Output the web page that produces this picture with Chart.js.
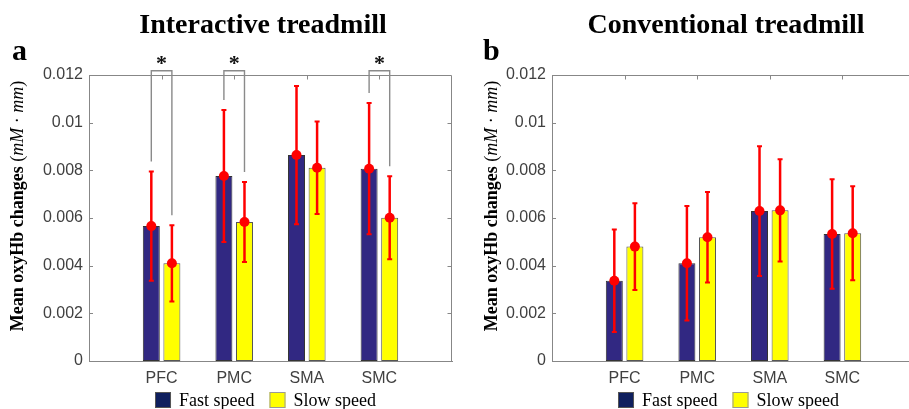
<!DOCTYPE html>
<html><head><meta charset="utf-8">
<script src="https://cdn.jsdelivr.net/npm/chart.js@4/dist/chart.umd.min.js"></script>
<style>
html,body{margin:0;padding:0;overflow:hidden;background:#fff;width:909px;height:409px;position:relative}
canvas{position:absolute;top:0}
#ca{left:0}
#cb{left:460px}
</style></head>
<body>
<canvas id="ca" width="530" height="409"></canvas>
<canvas id="cb" width="470" height="409"></canvas>
<script>
// ---- data ----
const categories = ['PFC', 'PMC', 'SMA', 'SMC'];
const seriesNames = ['Fast speed', 'Slow speed'];
const yTicks = [0, 0.002, 0.004, 0.006, 0.008, 0.01, 0.012];

const interactiveFast   = [0.00566, 0.00776, 0.00864, 0.00807];
const interactiveSlow   = [0.00410, 0.00583, 0.00811, 0.00601];
const interactiveFastSD = [0.00229, 0.00277, 0.00290, 0.00275];
const interactiveSlowSD = [0.00160, 0.00168, 0.00194, 0.00174];
const interactiveSig    = [true, true, false, true];

const conventionalFast   = [0.00337, 0.00410, 0.00629, 0.00533];
const conventionalSlow   = [0.00480, 0.00519, 0.00632, 0.00536];
const conventionalFastSD = [0.00215, 0.00240, 0.00272, 0.00230];
const conventionalSlowSD = [0.00182, 0.00190, 0.00215, 0.00197];
const conventionalSig    = [false, false, false, false];

const bracketLevel = 0.01218;

// ---- styles ----
const SANS = "'Liberation Sans', Arial, sans-serif";
const SERIF = "'Liberation Serif', 'Times New Roman', serif";
const fastColor = 'rgb(49,40,130)';
const slowColor = '#ffff00';
const legendFast = '#0f1f5e';
const axisColor = '#878787';
const tickColor = '#404040';
const YW = 50, XH = 30;

function panelPlugin(cfg) {
  return {
    id: 'panel' + cfg.letter,
    afterDatasetsDraw(chart) {
      const ctx = chart.ctx, ya = chart.scales.y;
      const vals = [cfg.fast, cfg.slow], sds = [cfg.fastSD, cfg.slowSD];
      ctx.save();
      for (let d = 0; d < 2; d++) {
        const meta = chart.getDatasetMeta(d);
        for (let i = 0; i < categories.length; i++) {
          const el = meta.data[i + 1];
          const x = el.x, v = vals[d][i], s = sds[d][i];
          const yT = ya.getPixelForValue(v + s), yB = ya.getPixelForValue(v - s), yM = ya.getPixelForValue(v);
          ctx.strokeStyle = '#ff0000'; ctx.fillStyle = '#ff0000';
          ctx.lineWidth = 2.5;
          ctx.beginPath(); ctx.moveTo(x, yT); ctx.lineTo(x, yB); ctx.stroke();
          ctx.lineWidth = 2;
          ctx.beginPath(); ctx.moveTo(x - 2.5, yT); ctx.lineTo(x + 2.5, yT);
          ctx.moveTo(x - 2.5, yB); ctx.lineTo(x + 2.5, yB); ctx.stroke();
          ctx.beginPath(); ctx.arc(x, yM, 5, 0, Math.PI * 2); ctx.fill();
        }
      }
      ctx.restore();
    },
    afterDraw(chart) {
      const ctx = chart.ctx, ca = chart.chartArea, ya = chart.scales.y, xa = chart.scales.x;
      ctx.save();
      // box + inward ticks
      ctx.strokeStyle = axisColor; ctx.lineWidth = 1;
      const top = Math.round(ca.top) + 0.5, right = Math.round(ca.right) - 0.5;
      ctx.beginPath();
      ctx.moveTo(ca.left, top); ctx.lineTo(right, top); ctx.lineTo(right, ca.bottom);
      for (let i = 0; i < categories.length; i++) {
        const x = Math.round(xa.getPixelForValue(i + 1)) + 0.5;
        ctx.moveTo(x, top); ctx.lineTo(x, top + 4);
      }
      yTicks.forEach(v => {
        const y = Math.round(ya.getPixelForValue(v)) + 0.5;
        if (v > 0 && v < 0.012) {
          ctx.moveTo(ca.left, y); ctx.lineTo(ca.left + 4, y);
          ctx.moveTo(right, y); ctx.lineTo(right - 4, y);
        }
      });
      ctx.stroke();

      // significance brackets
      const metaF = chart.getDatasetMeta(0), metaS = chart.getDatasetMeta(1);
      cfg.sig.forEach((s, i) => {
        if (!s) return;
        const x1 = metaF.data[i + 1].x, x2 = metaS.data[i + 1].x;
        const yb = ya.getPixelForValue(bracketLevel);
        const y1 = ya.getPixelForValue(cfg.fast[i] + cfg.fastSD[i]) - 10;
        const y2 = ya.getPixelForValue(cfg.slow[i] + cfg.slowSD[i]) - 10;
        ctx.strokeStyle = '#8a8a8a'; ctx.lineWidth = 1.4;
        ctx.beginPath(); ctx.moveTo(x1, y1); ctx.lineTo(x1, yb); ctx.lineTo(x2, yb); ctx.lineTo(x2, y2); ctx.stroke();
        ctx.fillStyle = '#111'; ctx.font = 'bold 22px ' + SERIF;
        ctx.textAlign = 'center'; ctx.textBaseline = 'alphabetic';
        ctx.fillText('*', (x1 + x2) / 2, yb - 0.5);
      });

      const cx = (ca.left + ca.right) / 2;
      // title
      ctx.fillStyle = '#000';
      ctx.font = 'bold 28px ' + SERIF; ctx.textAlign = 'center'; ctx.textBaseline = 'alphabetic';
      ctx.fillText(cfg.title, cx - 7.5, 33);
      // panel letter
      ctx.font = 'bold 30px ' + SERIF; ctx.textAlign = 'left';
      ctx.fillText(cfg.letter, ca.left - cfg.letterOff, 60);

      // y axis title (mixed fonts)
      const segs = [
        ['Mean oxyHb changes ', 'bold 18px ' + SERIF],
        ['(', '18px ' + SERIF],
        ['mM', 'italic 18px ' + SERIF],
        [' \u00b7 ', '18px ' + SERIF],
        ['mm', 'italic 18px ' + SERIF],
        [')', '18px ' + SERIF]
      ];
      let total = 0;
      segs.forEach(s => { ctx.font = s[1]; total += ctx.measureText(s[0]).width; });
      ctx.translate(ca.left - cfg.ylabOff, 206);
      ctx.rotate(-Math.PI / 2);
      let px = -total / 2;
      ctx.textAlign = 'left'; ctx.textBaseline = 'alphabetic'; ctx.fillStyle = '#000';
      segs.forEach(s => { ctx.font = s[1]; ctx.fillText(s[0], px, 0); px += ctx.measureText(s[0]).width; });
      ctx.setTransform(1, 0, 0, 1, 0, 0);

      // legend
      ctx.font = '18px ' + SERIF;
      const box = 16, g1 = 8, g2 = 15;
      const w1 = ctx.measureText(seriesNames[0]).width, w2 = ctx.measureText(seriesNames[1]).width;
      const lw = box + g1 + w1 + g2 + box + g1 + w2;
      let lx = cx - 5 - lw / 2;
      const ly = 392;
      ctx.lineWidth = 1; ctx.strokeStyle = '#555';
      ctx.fillStyle = legendFast; ctx.fillRect(lx, ly, box, box); ctx.strokeRect(lx + 0.5, ly + 0.5, box - 1, box - 1);
      ctx.fillStyle = '#000'; ctx.textBaseline = 'middle'; ctx.textAlign = 'left';
      ctx.fillText(seriesNames[0], lx + box + g1, ly + box / 2 + 1);
      lx += box + g1 + w1 + g2;
      ctx.fillStyle = slowColor; ctx.fillRect(lx, ly, box, box); ctx.strokeStyle = '#999'; ctx.strokeRect(lx + 0.5, ly + 0.5, box - 1, box - 1);
      ctx.fillStyle = '#000';
      ctx.fillText(seriesNames[1], lx + box + g1, ly + box / 2 + 1);
      ctx.restore();
    }
  };
}

function makeChart(id, cfg) {
  return new Chart(document.getElementById(id), {
    type: 'bar',
    data: {
      labels: ['', ...categories, ''],
      datasets: [
        { label: seriesNames[0], data: [null, ...cfg.fast, null], backgroundColor: fastColor, borderColor: '#333',
          borderWidth: 1, borderSkipped: false, categoryPercentage: 0.567, barPercentage: 0.825 },
        { label: seriesNames[1], data: [null, ...cfg.slow, null], backgroundColor: slowColor, borderColor: '#555',
          borderWidth: 1, borderSkipped: false, categoryPercentage: 0.567, barPercentage: 0.825 }
      ]
    },
    options: {
      responsive: false, animation: false, devicePixelRatio: 1,
      layout: { padding: cfg.padding },
      plugins: { legend: { display: false }, tooltip: { enabled: false }, title: { display: false } },
      scales: {
        x: {
          offset: false,
          grid: { display: false, drawTicks: false, tickLength: 0 },
          border: { display: true, color: axisColor, width: 1 },
          ticks: { color: tickColor, font: { family: SANS, size: 16 }, padding: 8, autoSkip: false, maxRotation: 0 },
          afterFit(s) { s.height = XH; }
        },
        y: {
          min: 0, max: 0.012,
          grid: { display: false, drawTicks: false, tickLength: 0 },
          border: { display: true, color: axisColor, width: 1 },
          ticks: { color: tickColor, font: { family: SANS, size: 16 }, padding: 6,
                   callback: v => String(+(+v).toFixed(4)) },
          afterBuildTicks(s) { s.ticks = yTicks.map(v => ({ value: v })); },
          afterFit(s) { s.width = YW; }
        }
      }
    },
    plugins: [panelPlugin(cfg)]
  });
}

makeChart('ca', {
  title: 'Interactive treadmill', letter: 'a', letterOff: 77, ylabOff: 66,
  fast: interactiveFast, slow: interactiveSlow, fastSD: interactiveFastSD, slowSD: interactiveSlowSD, sig: interactiveSig,
  padding: { left: 89 - YW, right: 530 - 452, top: 75, bottom: 409 - 361 - XH }
});
makeChart('cb', {
  title: 'Conventional treadmill', letter: 'b', letterOff: 69, ylabOff: 55.5,
  fast: conventionalFast, slow: conventionalSlow, fastSD: conventionalFastSD, slowSD: conventionalSlowSD, sig: conventionalSig,
  padding: { left: 552 - 460 - YW, right: 470 - 455, top: 75, bottom: 409 - 361 - XH }
});
</script>
</body></html>
